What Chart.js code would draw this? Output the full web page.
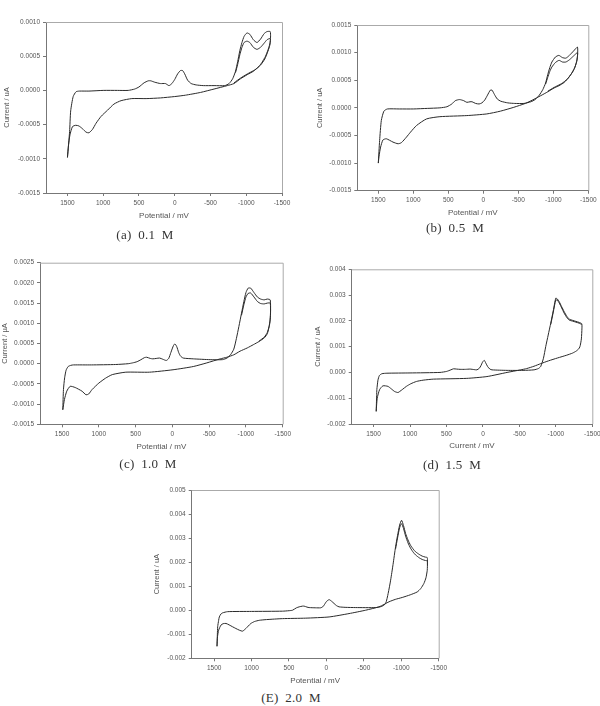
<!DOCTYPE html>
<html>
<head>
<meta charset="utf-8">
<script src="https://cdn.jsdelivr.net/npm/chart.js@4.4.0/dist/chart.umd.min.js"></script>
<style>
    body { margin: 0; width: 600px; height: 706px; background: #fff; position: relative; overflow: hidden; }
    canvas { position: absolute; }
    .cap { position: absolute; transform: translate(-50%, -50%); font-family: "Liberation Serif", "DejaVu Serif", serif;
           font-size: 13px; color: #333; white-space: nowrap; word-spacing: 3px; letter-spacing: 0.3px; }
</style>
</head>
<body>
<canvas id="chartA" width="300" height="222" style="left:0px;top:0px"></canvas>
<canvas id="chartB" width="287" height="219" style="left:313px;top:0px"></canvas>
<canvas id="chartC" width="300" height="213" style="left:0px;top:240px"></canvas>
<canvas id="chartD" width="300" height="212" style="left:312px;top:240px"></canvas>
<canvas id="chartE" width="300" height="217" style="left:150px;top:470px"></canvas>
<div class="cap" style="left:145px;top:235px">(a) 0.1 M</div>
<div class="cap" style="left:455px;top:228px">(b) 0.5 M</div>
<div class="cap" style="left:148px;top:464px">(c) 1.0 M</div>
<div class="cap" style="left:452px;top:465px">(d) 1.5 M</div>
<div class="cap" style="left:291px;top:698px">(E) 2.0 M</div>
<script>

var xTickValues = [1500, 1000, 500, 0, -500, -1000, -1500];

var yTicksA = [0.001, 0.0005, 0, -0.0005, -0.001, -0.0015];
var yTicksB = [0.0015, 0.001, 0.0005, 0, -0.0005, -0.001, -0.0015];
var yTicksC = [0.0025, 0.002, 0.0015, 0.001, 0.0005, 0, -0.0005, -0.001, -0.0015];
var yTicksD = [0.004, 0.003, 0.002, 0.001, 0, -0.001, -0.002];
var yTicksE = [0.005, 0.004, 0.003, 0.002, 0.001, 0, -0.001, -0.002];

// (a) 0.1 M  - full loop, then second cycle near the oxidation peak
var potA = [1500, 1470, 1455, 1420, 1380, 1335, 1200, 1000, 800, 650, 560, 500, 430, 370, 335, 280, 200, 130, 80, 40, 0,
    -40, -80, -110, -140, -180, -230, -300, -400, -550, -700, -760, -810, -850, -880, -910, -940, -970, -1010, -1050,
    -1100, -1150, -1200, -1250, -1290, -1335,
    -1340, -1330, -1300, -1270, -1220, -1177, -1100, -1014, -920, -828, -735, -550, -360, -150, 0, 200, 400, 600, 750,
    850, 940, 1030, 1100, 1150, 1200, 1240, 1290, 1340, 1385, 1430, 1465, 1485, 1500];
var curA = [-0.00098, -0.0006, -0.0003, -0.00009, -0.00002, -0.00001, -0.00001, 0, 0, 0, 0.00002, 0.00005, 0.00011, 0.00014,
    0.00014, 0.00012, 0.0001, 0.0001, 0.00007, 0.0001, 0.00016,
    0.00024, 0.00029, 0.00029, 0.00024, 0.00015, 0.0001, 0.00008, 0.00007, 0.00007, 0.00007, 0.0001, 0.00017, 0.00028,
    0.00042, 0.00058, 0.0007, 0.00079, 0.00084, 0.00082,
    0.00074, 0.0007, 0.00075, 0.00083, 0.00086, 0.00086,
    0.00078, 0.00068, 0.00058, 0.0005, 0.00041, 0.00035, 0.00028, 0.00023, 0.00017, 0.0001, 0.00007, 0.00002, -0.00003,
    -0.00007, -0.00009, -0.00011, -0.00012, -0.00012, -0.00015,
    -0.0002, -0.00029, -0.00038, -0.00048, -0.00057, -0.00062, -0.00061, -0.00056, -0.00052, -0.00051, -0.00053,
    -0.00065, -0.0008, -0.00098];
var potA2 = [-850, -880, -910, -940, -970, -1010, -1050, -1100, -1150, -1200, -1250, -1290, -1335,
    -1338, -1325, -1295, -1260, -1200, -1120, -1014, -920, -828];
var curA2 = [0.00026, 0.00038, 0.00052, 0.00063, 0.0007, 0.00072, 0.0007, 0.00063, 0.0006, 0.00063, 0.00069, 0.00074,
    0.00076, 0.00072, 0.00064, 0.00055, 0.00046, 0.00037, 0.0003, 0.00024, 0.00018, 0.00011];

// (b) 0.5 M
var potB = [1500, 1481, 1457, 1420, 1370, 1200, 1000, 800, 620, 520, 450, 400, 340, 280, 235, 190, 160, 110, 60, 20,
    -20, -60, -100, -125, -160, -200, -250, -350, -450, -580, -680, -740, -800, -850, -890, -920, -950, -980, -1030,
    -1080, -1130, -1180, -1230, -1290, -1345,
    -1348, -1338, -1310, -1275, -1220, -1155, -1080, -1012, -920, -820, -700, -600, -436, -244, -50, 235, 620, 810,
    954, 1040, 1098, 1170, 1218, 1290, 1385, 1433, 1467, 1490, 1500];
var curB = [-0.001, -0.00059, -0.00023, -0.00006, -0.00002, -0.00002, -0.00002, -0.00001, 0, 0.00002, 0.00007, 0.00013,
    0.00015, 0.00013, 0.0001, 0.00011, 0.00011, 0.00008, 0.00007, 0.00009,
    0.00014, 0.00023, 0.00032, 0.00032, 0.00024, 0.00016, 0.00012, 0.00009, 0.00008, 0.00008, 0.00011, 0.00015,
    0.00023, 0.00033, 0.00045, 0.0006, 0.00073, 0.00083, 0.00092,
    0.00095, 0.00091, 0.0009, 0.00095, 0.00103, 0.0011,
    0.00098, 0.00086, 0.00074, 0.00065, 0.00055, 0.00046, 0.0004, 0.00036, 0.00029, 0.00022, 0.00014, 0.00008,
    0.00001, -0.00006, -0.00011, -0.00014, -0.00016, -0.0002,
    -0.00032, -0.00044, -0.00053, -0.00063, -0.00065, -0.00062, -0.00056, -0.00058, -0.00071, -0.00088, -0.001];
var potB2 = [-890, -920, -950, -980, -1030, -1083, -1130, -1180, -1230, -1290, -1345,
    -1345, -1330, -1300, -1260, -1200, -1120, -1012, -920];
var curB2 = [0.00043, 0.00055, 0.00066, 0.00074, 0.00082, 0.00086, 0.00083, 0.00083, 0.00087, 0.00094, 0.001,
    0.00093, 0.00082, 0.00071, 0.00062, 0.00052, 0.00044, 0.00037, 0.0003];

// (c) 1.0 M
var potC = [1490, 1481, 1465, 1445, 1417, 1380, 1344, 1100, 771, 600, 541, 480, 427, 380, 350, 300, 266, 220, 174, 130,
    83, 50, 20, -15, -35, -60, -85, -110, -147, -284, -514, -680, -743, -790, -835, -870, -904, -940, -972, -1000,
    -1030, -1065, -1110, -1156, -1200, -1248, -1290, -1330,
    -1335, -1330, -1310, -1290, -1250, -1179, -1100, -1018, -920, -835, -740, -651, -468, -284, -9, 312, 633, 817,
    910, 1000, 1092, 1138, 1174, 1229, 1321, 1390, 1436, 1468, 1490];
var curC = [-0.00114, -0.00064, -0.00035, -0.00016, -0.00007, -0.00004, -0.00003, -0.00003, -0.00002, 0, 0.00002,
    0.00005, 0.0001, 0.00015, 0.00016, 0.00013, 0.00012, 0.00013, 0.00014, 0.00011,
    0.00008, 0.00013, 0.00028, 0.00045, 0.00049, 0.00042, 0.00028, 0.00019, 0.00014, 0.00012, 0.0001, 0.0001,
    0.00014, 0.00022, 0.00036, 0.00062, 0.00092, 0.00125, 0.00154, 0.00176,
    0.00187, 0.00187, 0.00176, 0.00165, 0.0016, 0.00158, 0.0016, 0.00158,
    0.0013, 0.00109, 0.00088, 0.00074, 0.00064, 0.00055, 0.00047, 0.00039, 0.00031, 0.00022, 0.00016, 0.00012,
    0.00002, -0.00007, -0.00015, -0.00021, -0.00021, -0.00027,
    -0.00036, -0.00048, -0.00064, -0.00075, -0.00077, -0.00068, -0.00059, -0.00056, -0.00068, -0.00089, -0.00114];
var potC2 = [-940, -972, -1000, -1030, -1065, -1110, -1156, -1200, -1248, -1290, -1330,
    -1333, -1320, -1290, -1250, -1179];
var curC2 = [0.0012, 0.00146, 0.00165, 0.00174, 0.00175, 0.00165, 0.00154, 0.00149, 0.00148, 0.0015, 0.0015,
    0.0012, 0.00095, 0.00077, 0.00066, 0.00056];

// (d) 1.5 M
var potD = [1464, 1458, 1455, 1440, 1420, 1386, 1317, 1000, 589, 497, 440, 405, 360, 313, 240, 175, 120, 83, 50, 28,
    5, -18, -40, -64, -95, -124, -331, -550, -700, -760, -792, -830, -861, -895, -930, -965, -999, -1020, -1045,
    -1080, -1114, -1150, -1183, -1230, -1275, -1320, -1355,
    -1358, -1350, -1335, -1321, -1280, -1229, -1150, -1022, -900, -792, -700, -600, -516, -331, -55, 221, 681, 820,
    912, 990, 1050, 1100, 1142, 1165, 1211, 1260, 1303, 1372, 1418, 1450, 1464];
var curD = [-0.00151, -0.0009, -0.00067, -0.0003, -0.00012, -0.00005, -0.00003, -0.00002, 0, 0.00004, 0.0001, 0.00014,
    0.00013, 0.00012, 0.00012, 0.00013, 0.00011, 0.0001, 0.00016, 0.00026,
    0.0004, 0.00047, 0.00036, 0.00023, 0.00013, 0.0001, 0.00008, 0.00008, 0.0001, 0.00015, 0.00023, 0.00055, 0.001,
    0.00145, 0.00191, 0.0024, 0.00288, 0.00285, 0.00275,
    0.00255, 0.00236, 0.00218, 0.00207, 0.00202, 0.00198, 0.00194, 0.00189,
    0.00172, 0.0013, 0.00105, 0.00094, 0.00083, 0.00075, 0.00067, 0.00056, 0.00045, 0.00034, 0.00024, 0.00015,
    0.0001, 0, -0.00016, -0.00023, -0.00026, -0.0003,
    -0.00035, -0.00044, -0.00054, -0.00065, -0.00074, -0.00078, -0.00074, -0.00063, -0.00054, -0.00052, -0.00067,
    -0.001, -0.00151];
var potD2 = [-930, -965, -999, -1020, -1045, -1080, -1114, -1150, -1183, -1230, -1275, -1320, -1355];
var curD2 = [0.00186, 0.00234, 0.00281, 0.0028, 0.0027, 0.0025, 0.0023, 0.00213, 0.00203, 0.00199, 0.00195, 0.00191,
    0.00186];

// (E) 2.0 M
var potE = [1462, 1457, 1453, 1440, 1431, 1410, 1387, 1320, 1000, 587, 500, 453, 400, 364, 320, 298, 260, 231, 150, 76,
    50, 31, 0, -36, -70, -102, -135, -169, -250, -391, -658, -740, -791, -825, -858, -890, -924, -950, -978, -1004,
    -1030, -1058, -1090, -1124, -1160, -1191, -1240, -1280, -1320, -1347,
    -1350, -1347, -1330, -1302, -1260, -1213, -1120, -1013, -920, -836, -770, -702, -524, -302, -36, 276, 587, 800,
    898, 960, 1009, 1045, 1076, 1120, 1164, 1210, 1253, 1300, 1342, 1380, 1409, 1440, 1455, 1462];
var curE = [-0.0015, -0.001, -0.00069, -0.00042, -0.00028, -0.00016, -0.00011, -0.00006, -0.00005, -0.00004, -0.00002,
    0, 0.0001, 0.00014, 0.00017, 0.00017, 0.00013, 0.00011, 0.0001, 0.0001,
    0.00014, 0.00021, 0.00036, 0.00044, 0.00037, 0.00028, 0.00019, 0.00014, 0.00012, 0.00011, 0.00011, 0.00016,
    0.00028, 0.0007, 0.00125, 0.0019, 0.00264, 0.0031, 0.00354, 0.00374,
    0.00352, 0.00319, 0.00292, 0.0027, 0.00254, 0.00243, 0.00232, 0.00225, 0.00221, 0.00219,
    0.002, 0.00166, 0.00135, 0.00111, 0.0009, 0.00076, 0.00064, 0.00053, 0.00045, 0.00035, 0.00024, 0.00014, 0,
    -0.00014, -0.00028, -0.00033, -0.00035, -0.00039,
    -0.00042, -0.00047, -0.00055, -0.00066, -0.00076, -0.00087, -0.00083, -0.00076, -0.00069, -0.00061, -0.00055,
    -0.00056, -0.00062, -0.00083, -0.0011, -0.0015];
var potE2 = [-924, -950, -978, -1004, -1030, -1058, -1090, -1124, -1160, -1191, -1240, -1280, -1320, -1347, -1350];
var curE2 = [0.00255, 0.003, 0.00343, 0.0036, 0.0034, 0.00308, 0.0028, 0.00258, 0.00241, 0.0023, 0.00218, 0.00211,
    0.00207, 0.00205, 0.0019];

function toPoints(pot, cur) {
    var pts = [];
    for (var i = 0; i < pot.length; i++) {
        pts.push({x: pot[i], y: cur[i]});
    }
    return pts;
}

// draws the grey box round the plot area (top and right sides)
var framePlugin = {
    id: 'frame',
    afterDraw: function (chart) {
        var a = chart.chartArea;
        var ctx = chart.ctx;
        ctx.save();
        ctx.strokeStyle = '#aaa';
        ctx.lineWidth = 1;
        ctx.beginPath();
        ctx.moveTo(a.left, a.top + 0.5);
        ctx.lineTo(a.right + 0.5, a.top + 0.5);
        ctx.lineTo(a.right + 0.5, a.bottom);
        ctx.stroke();
        ctx.restore();
    }
};

function makePanel(id, pot, cur, pot2, cur2, yTicks, decimals, xTitle, yTitle, box) {
    var ctx = document.getElementById(id).getContext('2d');
    var lineStyle = {
        showLine: true,
        borderColor: '#2a2a2a',
        borderWidth: 1,
        pointRadius: 0,
        tension: 0.2,
        fill: false
    };

    return new Chart(ctx, {
        type: 'scatter',
        data: {
            datasets: [
                Object.assign({label: 'cycle 1', data: toPoints(pot, cur)}, lineStyle),
                Object.assign({label: 'cycle 2', data: toPoints(pot2, cur2)}, lineStyle)
            ]
        },
        options: {
            responsive: false,
            animation: false,
            devicePixelRatio: 1,
            layout: {padding: {left: 0, top: box.padTop, right: box.padRight, bottom: 0}},
            plugins: {legend: {display: false}, tooltip: {enabled: false}},
            scales: {
                x: {
                    type: 'linear',
                    reverse: true,
                    min: -1500,
                    max: 1800,
                    afterBuildTicks: function (axis) {
                        axis.ticks = xTickValues.map(function (v) { return {value: v}; });
                    },
                    afterFit: function (axis) { axis.height = box.xH; },
                    grid: {drawOnChartArea: false, tickLength: 3, color: '#777'},
                    border: {color: '#777'},
                    ticks: {
                        autoSkip: false, maxRotation: 0, padding: 3, color: '#555',
                        font: {family: 'Liberation Sans', size: 6.5},
                        callback: function (v) { return String(v); }
                    },
                    title: {
                        display: true, text: xTitle, color: '#555',
                        font: {family: 'Liberation Sans', size: 8},
                        padding: {top: 0, bottom: box.xTitlePad}
                    }
                },
                y: {
                    type: 'linear',
                    min: yTicks[yTicks.length - 1],
                    max: yTicks[0],
                    afterBuildTicks: function (axis) {
                        axis.ticks = yTicks.map(function (v) { return {value: v}; });
                    },
                    afterFit: function (axis) { axis.width = box.yW; },
                    grid: {drawOnChartArea: false, tickLength: 3, color: '#777'},
                    border: {color: '#777'},
                    ticks: {
                        autoSkip: false, padding: 3, color: '#555',
                        font: {family: 'Liberation Sans', size: 6.5},
                        callback: function (v) { return v.toFixed(decimals); }
                    },
                    title: {
                        display: true, text: yTitle, color: '#555',
                        font: {family: 'Liberation Sans', size: 7.5},
                        padding: {top: box.yTitlePad, bottom: 0}
                    }
                }
            }
        },
        plugins: [framePlugin]
    });
}

makePanel('chartA', potA, curA, potA2, curA2, yTicksA, 4, 'Potential / mV', 'Current / uA',
    {padTop: 22, padRight: 18, yW: 46, xH: 29, yTitlePad: 2, xTitlePad: 1.2});
makePanel('chartB', potB, curB, potB2, curB2, yTicksB, 4, 'Potential / mV', 'Current / uA',
    {padTop: 25, padRight: 11.7, yW: 44.3, xH: 28.3, yTitlePad: 2.5, xTitlePad: 1.5});
makePanel('chartC', potC, curC, potC2, curC2, yTicksC, 4, 'Potential / mV', 'Current / µA',
    {padTop: 22.7, padRight: 17.3, yW: 40, xH: 28.7, yTitlePad: 0, xTitlePad: 1.5});
makePanel('chartD', potD, curD, potD2, curD2, yTicksD, 3, 'Current / mV', 'Current / uA',
    {padTop: 29.3, padRight: 19.7, yW: 39.7, xH: 28, yTitlePad: 1.8, xTitlePad: 1.5});
makePanel('chartE', potE, curE, potE2, curE2, yTicksE, 3, 'Potential / mV', 'Current / uA',
    {padTop: 20, padRight: 10, yW: 41.7, xH: 28.7, yTitlePad: 2.2, xTitlePad: 1.2});
</script>
</body>
</html>
